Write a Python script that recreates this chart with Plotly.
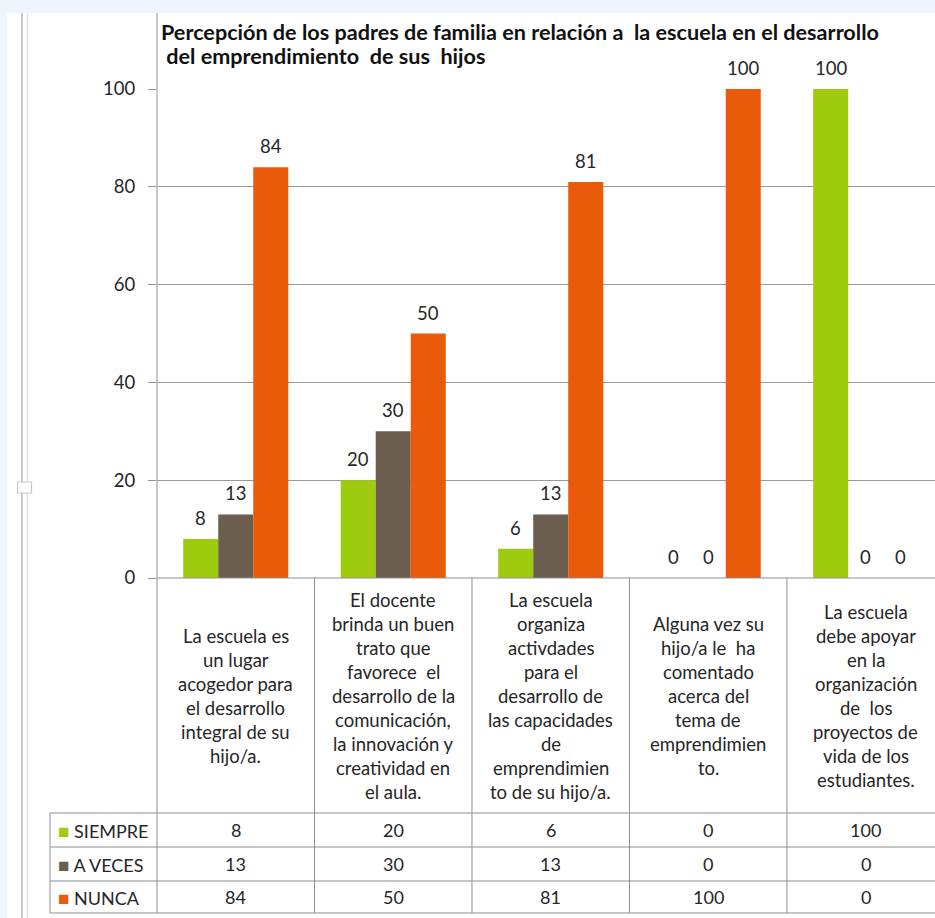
import plotly.graph_objects as go

# data
categorias = [
    ["La escuela es", "un lugar", "acogedor para", "el desarrollo", "integral de su", "hijo/a."],
    ["El docente", "brinda un buen", "trato que", "favorece  el", "desarrollo de la",
     "comunicación,", "la innovación y", "creatividad en", "el aula."],
    ["La escuela", "organiza", "activdades", "para el", "desarrollo de", "las capacidades",
     "de", "emprendimien", "to de su hijo/a."],
    ["Alguna vez su", "hijo/a le  ha", "comentado", "acerca del", "tema de",
     "emprendimien", "to."],
    ["La escuela", "debe apoyar", "en la", "organización", "de  los", "proyectos de",
     "vida de los", "estudiantes."],
]
series = ["SIEMPRE", "A VECES", "NUNCA"]
siempre = [8, 20, 6, 0, 100]
a_veces = [13, 30, 13, 0, 0]
nunca = [84, 50, 81, 100, 0]
valores = [siempre, a_veces, nunca]
colores = ["#9ecb0e", "#6b5e4e", "#ea5a0a"]

titulo = ["Percepción de los padres de familia en relación a  la escuela en el desarrollo",
          " del emprendimiento  de sus  hijos"]

W, H = 935, 918
L, R, T, B = 157, 0, 89, 340
FONT = "Lato"
TXT = "#262626"
LINE = "#8f8f8f"


def px(x):
    return (x - L) / (W - L - R)


def py(y):
    return (H - B - y) / (H - T - B)


keys = ["c%d" % i for i in range(len(categorias))]

fig = go.Figure()
for nombre, vals, col in zip(series, valores, colores):
    fig.add_trace(go.Bar(x=keys, y=vals, name=nombre, marker=dict(color=col, line=dict(width=0)),
                         showlegend=False, hoverinfo="y"))

shapes = []
ann = []

# page background / frame
shapes.append(dict(type="rect", xref="paper", yref="paper", x0=px(7), x1=px(W + 5),
                   y0=py(13), y1=py(H + 5), fillcolor="white", line=dict(width=0), layer="below"))
shapes.append(dict(type="line", xref="paper", yref="paper", x0=px(22), x1=px(22),
                   y0=py(13), y1=py(H), line=dict(color="#cacaca", width=2)))
shapes.append(dict(type="line", xref="paper", yref="paper", x0=px(27.5), x1=px(27.5),
                   y0=py(13), y1=py(H), line=dict(color="#e2e2e2", width=1.5)))
shapes.append(dict(type="rect", xref="paper", yref="paper", x0=px(17.5), x1=px(31.5),
                   y0=py(482), y1=py(493), fillcolor="white", line=dict(color="#c8c8c8", width=1.2)))

# vertical axis line extended through table
shapes.append(dict(type="line", xref="paper", yref="paper", x0=0, x1=0,
                   y0=py(13), y1=py(913), line=dict(color=LINE, width=1)))

# table
n = len(categorias)
for i in range(1, n):
    shapes.append(dict(type="line", xref="x", yref="paper", x0=i - 0.5, x1=i - 0.5,
                       y0=py(578), y1=py(913), line=dict(color=LINE, width=1)))
row_y = [813, 847, 881, 913]
for yy in row_y:
    shapes.append(dict(type="line", xref="paper", yref="paper", x0=px(50), x1=px(W + 5),
                       y0=py(yy), y1=py(yy), line=dict(color=LINE, width=1)))
shapes.append(dict(type="line", xref="paper", yref="paper", x0=px(50), x1=px(50),
                   y0=py(813), y1=py(913), line=dict(color=LINE, width=1)))
shapes.append(dict(type="line", xref="paper", yref="paper", x0=0, x1=px(W + 5),
                   y0=0, y1=0, line=dict(color=LINE, width=1)))

# category labels
for k, lineas in zip(keys, categorias):
    m = len(lineas)
    for j, t in enumerate(lineas):
        yc = 695.5 + (j - (m - 1) / 2) * 24
        ann.append(dict(x=k, xref="x", y=py(yc), yref="paper", text=t, showarrow=False,
                        xanchor="center", yanchor="middle", font=dict(family=FONT, size=18.5, color=TXT)))

# value rows + legend keys
for r, (nombre, vals, col) in enumerate(zip(series, valores, colores)):
    yc = (row_y[r] + row_y[r + 1]) / 2
    ann.append(dict(x=px(56), xref="paper", y=py(yc), yref="paper",
                    text="<span style='color:%s;font-size:19px'>■</span> %s" % (col, nombre),
                    showarrow=False, xanchor="left", yanchor="middle",
                    font=dict(family=FONT, size=18, color=TXT)))
    for k, v in zip(keys, vals):
        ann.append(dict(x=k, xref="x", y=py(yc), yref="paper", text=str(v), showarrow=False,
                        xanchor="center", yanchor="middle", font=dict(family=FONT, size=18, color=TXT)))

# data labels above bars
for s, vals in enumerate(valores):
    for k, v in zip(keys, vals):
        ann.append(dict(x=k, xref="x", y=v, yref="y", text=str(v), showarrow=False,
                        xshift=(s - 1) * 35, yshift=21, xanchor="center", yanchor="middle",
                        font=dict(family=FONT, size=18.5, color=TXT)))

# title
for j, t in enumerate(titulo):
    ann.append(dict(x=px(159), xref="paper", y=py(32 + j * 24), yref="paper", text="<b>%s</b>" % t,
                    showarrow=False, xanchor="left", yanchor="middle",
                    font=dict(family=FONT, size=21.6, color="#111111")))

fig.update_layout(
    width=W, height=H,
    margin=dict(l=L, r=R, t=T, b=B),
    paper_bgcolor="#eef5fd",
    plot_bgcolor="rgba(0,0,0,0)",
    barmode="group", bargap=0.333, bargroupgap=0,
    font=dict(family=FONT, color=TXT),
    xaxis=dict(type="category", range=[-0.5, 4.44], showticklabels=False, showgrid=False,
               zeroline=False, showline=False, ticks=""),
    yaxis=dict(range=[0, 100], tickvals=[0, 20, 40, 60, 80, 100], showgrid=True,
               gridcolor="#9a9a9a", gridwidth=1, zeroline=False, showline=False,
               ticks="outside", ticklen=8, tickcolor=LINE, ticklabelstandoff=9,
               tickfont=dict(family=FONT, size=18.5, color=TXT)),
    shapes=shapes,
    annotations=ann,
)

fig.write_html("out.html", config={"displayModeBar": False},
               post_script="document.body.style.margin='0';document.body.style.overflow='hidden';")
